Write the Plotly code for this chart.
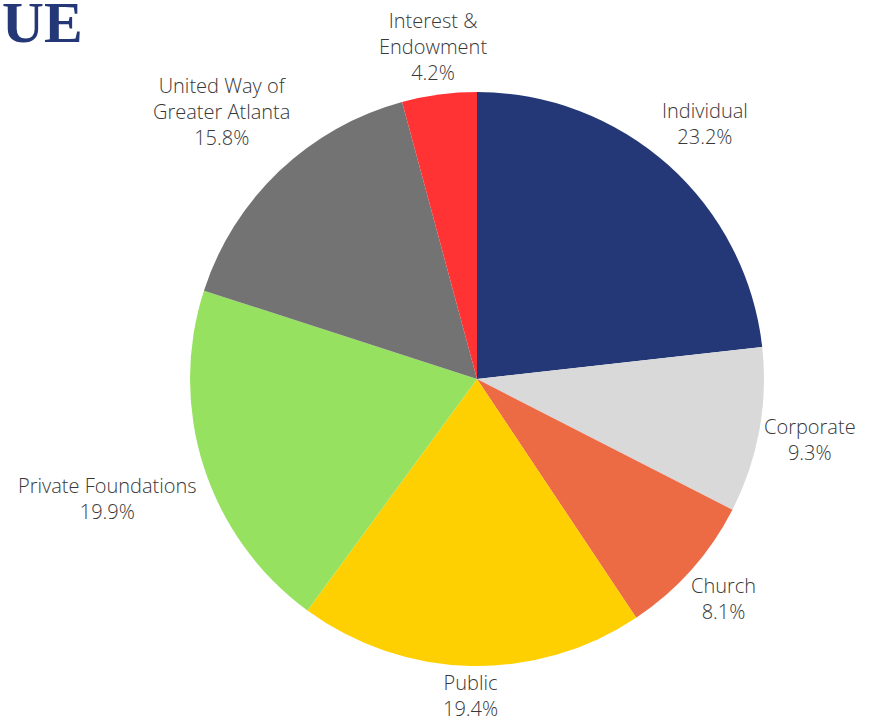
import math
import plotly.graph_objects as go

labels = ["Individual", "Corporate", "Church", "Public", "Private Foundations",
          "United Way of<br>Greater Atlanta", "Interest &<br>Endowment"]
values = [23.2, 9.3, 8.1, 19.4, 19.9, 15.8, 4.2]
colors = ["#243877", "#D9D9D9", "#EC6A44", "#FFD001", "#96E15F", "#737373", "#FF3333"]

W, H = 870, 724
cx, cy, r = 477, 379, 287
fs = 20
gap = 3

fig = go.Figure(go.Pie(
    labels=labels, values=values, sort=False, direction="clockwise", rotation=0,
    marker=dict(colors=colors, line=dict(width=0)),
    textinfo="none", showlegend=False, hoverinfo="label+value",
    domain=dict(x=[(cx - r) / W, (cx + r) / W], y=[(H - cy - r) / H, (H - cy + r) / H]),
))

# data labels placed outside each slice at its mid-angle
total = sum(values)
cum = 0.0
for lab, v in zip(labels, values):
    mid = (cum + v / 2) / total * 2 * math.pi
    cum += v
    dx, dy = math.sin(mid), -math.cos(mid)
    lines = lab.split("<br>") + [f"{v:.1f}%"]
    w = max(len(s) for s in lines) * fs * 0.5
    h = len(lines) * fs * 1.3
    d = r + gap + abs(dx) * w / 2 + abs(dy) * h / 2
    px, py = cx + dx * d, cy + dy * d
    fig.add_annotation(text=f"{lab}<br>{v:.1f}%", x=px / W, y=1 - py / H,
                       xref="paper", yref="paper", xanchor="center", yanchor="middle",
                       align="center", showarrow=False,
                       font=dict(family="Open Sans", size=fs, color="#383838", weight=300))

fig.add_annotation(text="<b>UE</b>", x=0, y=1, xref="paper", yref="paper",
                   xanchor="left", yanchor="top", showarrow=False, xshift=0, yshift=12,
                   font=dict(family="Liberation Serif", size=58, color="#243877"))

fig.update_layout(width=W, height=H, margin=dict(l=0, r=0, t=0, b=0),
                  paper_bgcolor="white", plot_bgcolor="white")
fig.write_html("out.html", config={"displayModeBar": False},
               post_script="document.body.style.margin='0';")
